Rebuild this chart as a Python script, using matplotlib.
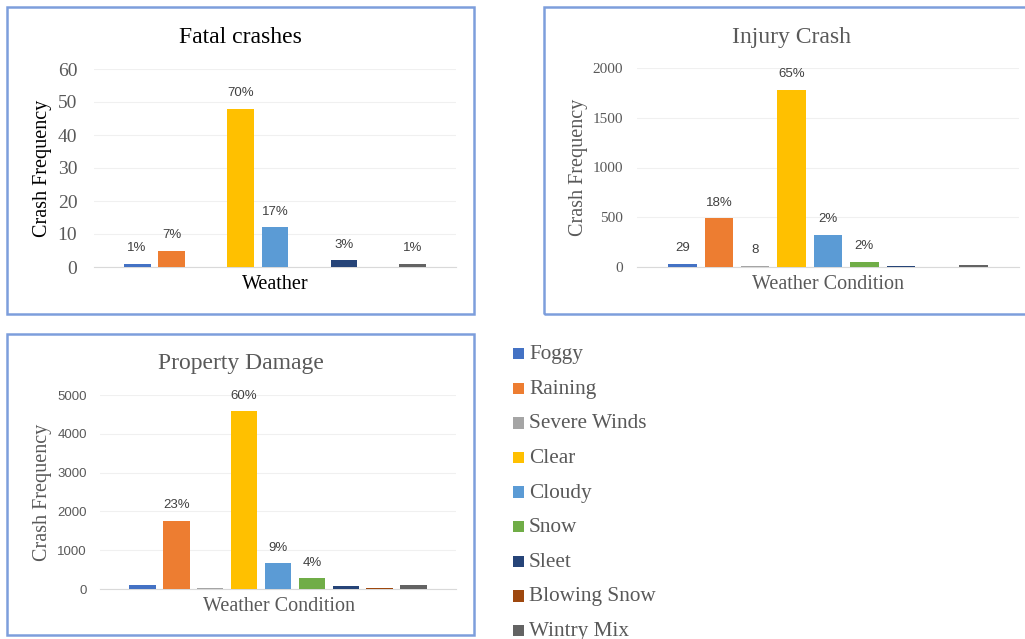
import matplotlib
matplotlib.use("Agg")
import matplotlib.pyplot as plt
from matplotlib.patches import Rectangle

# ---------------- data ----------------
categories = ["Foggy", "Raining", "Severe Winds", "Clear", "Cloudy", "Snow",
              "Sleet", "Blowing Snow", "Wintry Mix"]
colors = ["#4472C4", "#ED7D31", "#A5A5A5", "#FFC000", "#5B9BD5", "#70AD47",
          "#264478", "#9E480E", "#636363"]

fatal_values = [1, 5, 0, 48, 12, 0, 2, 0, 1]
fatal_labels = ["1%", "7%", "", "70%", "17%", "", "3%", "", "1%"]
fatal_ticks = [0, 10, 20, 30, 40, 50, 60]

injury_values = [29, 490, 8, 1780, 325, 55, 6, 5, 22]
injury_labels = ["29", "18%", "8", "65%", "2%", "2%", "", "", ""]
injury_ticks = [0, 500, 1000, 1500, 2000]

property_values = [100, 1750, 35, 4580, 660, 275, 65, 30, 95]
property_labels = ["", "23%", "", "60%", "9%", "4%", "", "", ""]
property_ticks = [0, 1000, 2000, 3000, 4000, 5000]

# ---------------- layout ----------------
W, H = 1025, 639
fig = plt.figure(figsize=(W / 100, H / 100), dpi=100)

SERIF = "Liberation Serif"
SANS = "Liberation Sans"
GRAY = "#595959"
BORDER = "#7D9EDC"


def fx(px):
    return px / W


def fy(py):
    return 1 - py / H


def box(x0, y0, x1, y1):
    fig.patches.append(Rectangle((fx(x0), fy(y1)), fx(x1) - fx(x0), fy(y0) - fy(y1),
                                 transform=fig.transFigure, fill=False,
                                 edgecolor=BORDER, lw=1.8, clip_on=False))


def panel(rect_px, values, labels, ticks, tick_font, tick_size, tick_pad):
    x0, y0, x1, y1 = rect_px
    ax = fig.add_axes([fx(x0), fy(y1), fx(x1) - fx(x0), fy(y0) - fy(y1)])
    pos = list(range(len(categories)))
    bars = ax.bar(pos, values, width=0.78, color=colors, zorder=3)
    for b, lab in zip(bars, labels):
        if lab:
            ax.annotate(lab, (b.get_x() + b.get_width() / 2, b.get_height()),
                        xytext=(0, 7), textcoords="offset points",
                        ha="center", va="bottom", fontsize=9.5,
                        family=SANS, color="#404040")
    ax.set_xlim(-1.25, 9.25)
    ax.set_ylim(ticks[0], ticks[-1])
    ax.set_yticks(ticks)
    ax.set_xticks([])
    ax.tick_params(axis="y", length=0, pad=tick_pad, labelsize=tick_size,
                   labelcolor=GRAY)
    for t in ax.get_yticklabels():
        t.set_family(tick_font)
    for s in ["top", "right", "left"]:
        ax.spines[s].set_visible(False)
    ax.spines["bottom"].set_color("#D9D9D9")
    ax.spines["bottom"].set_linewidth(0.8)
    ax.yaxis.grid(True, color="#F0F0F0", lw=0.8, zorder=0)
    ax.set_axisbelow(True)
    ax.set_facecolor("none")
    return ax


# ----- Fatal crashes -----
box(7, 7, 474, 314)
panel((94, 69, 456, 267), fatal_values, fatal_labels, fatal_ticks, SERIF, 14, 12)
fig.text(fx(240.5), fy(43), "Fatal crashes", ha="center", va="baseline",
         family=SERIF, fontsize=17, color="#000000")
fig.text(fx(42), fy(168), "Crash Frequency", rotation=90, ha="center", va="center",
         family=SERIF, fontsize=14.5, color="#000000")
fig.text(fx(275), fy(289), "Weather", ha="center", va="baseline",
         family=SERIF, fontsize=14.5, color="#000000")

# ----- Injury Crash -----
box(544, 7, 1040, 314)
panel((637, 68, 1019, 267), injury_values, injury_labels, injury_ticks, SERIF, 11, 10)
fig.text(fx(791), fy(43), "Injury Crash", ha="center", va="baseline",
         family=SERIF, fontsize=17, color=GRAY)
fig.text(fx(578), fy(167.5), "Crash Frequency", rotation=90, ha="center", va="center",
         family=SERIF, fontsize=14.5, color=GRAY)
fig.text(fx(828), fy(289), "Weather Condition", ha="center", va="baseline",
         family=SERIF, fontsize=14.5, color=GRAY)

# ----- Property Damage -----
box(7, 334, 474, 635)
panel((100, 395, 456, 589), property_values, property_labels, property_ticks, SANS, 9.5, 9.5)
fig.text(fx(241), fy(369), "Property Damage", ha="center", va="baseline",
         family=SERIF, fontsize=17, color=GRAY)
fig.text(fx(42), fy(492.5), "Crash Frequency", rotation=90, ha="center", va="center",
         family=SERIF, fontsize=14.5, color=GRAY)
fig.text(fx(279), fy(611), "Weather Condition", ha="center", va="baseline",
         family=SERIF, fontsize=14.5, color=GRAY)

# ----- Legend -----
for i, (name, col) in enumerate(zip(categories, colors)):
    base = 359.3 + i * 34.6
    fig.patches.append(Rectangle((fx(513), fy(base)), fx(524) - fx(513), fy(348) - fy(359.3),
                                 transform=fig.transFigure, facecolor=col,
                                 edgecolor="none"))
    fig.text(fx(529), fy(base), name, ha="left", va="baseline",
             family=SERIF, fontsize=15.3, color=GRAY)

fig.savefig("out.png", dpi=100, facecolor="white")
